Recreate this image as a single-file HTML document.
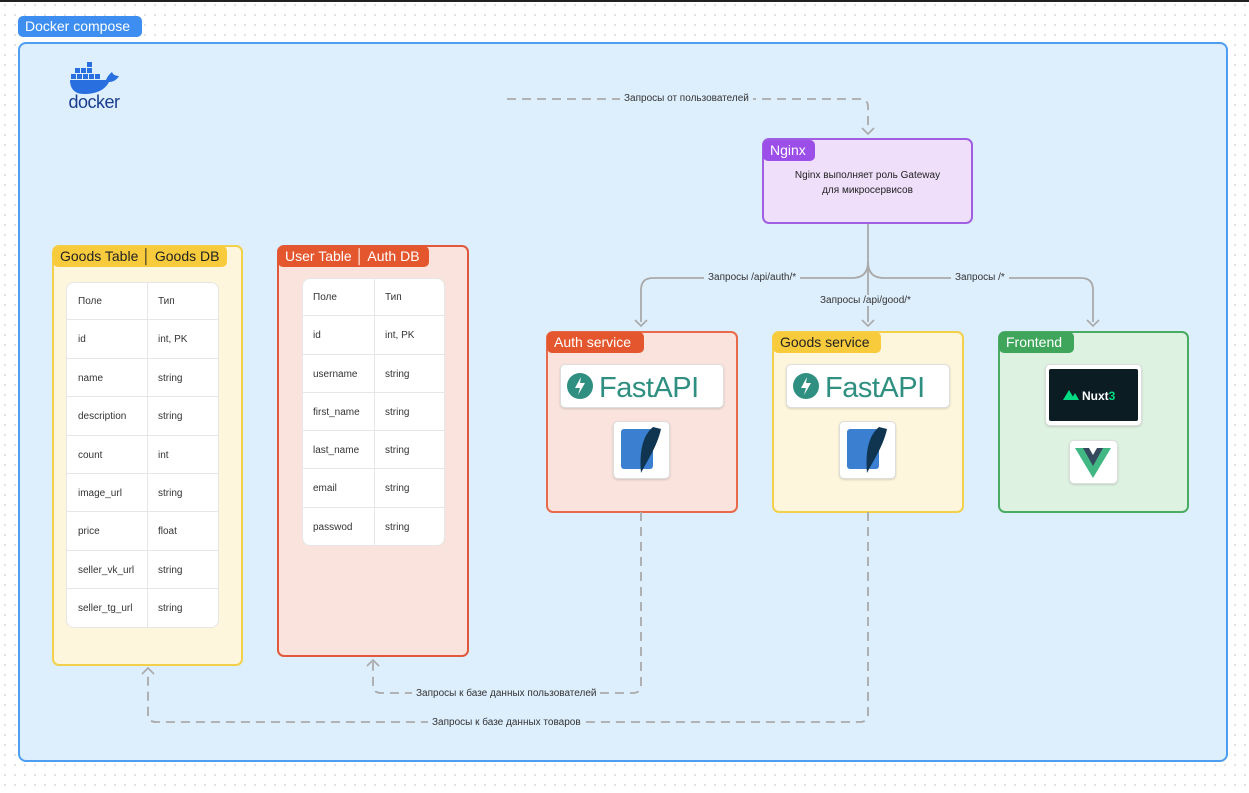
<!DOCTYPE html>
<html><head><meta charset="utf-8"><style>
*{box-sizing:border-box;margin:0;padding:0}
body{width:1249px;height:793px;position:relative;overflow:hidden;background:#fff;
background-image:radial-gradient(#d8d8d8 0.8px,transparent 1px);background-size:10px 10px;
font-family:"Liberation Sans","DejaVu Sans",sans-serif;color:#222}
.a{position:absolute}
.tag{position:absolute;font-size:14px;padding:0 7px;height:21px;line-height:21px;border-radius:5px;white-space:nowrap}
.box{position:absolute;border-radius:7px;border:2px solid}
.tbl{position:absolute;background:#fff;border-radius:8px;border:1px solid #e6e6e6;overflow:hidden}
.card{position:absolute;background:#fff;border-radius:5px;border:1px solid #ddd;box-shadow:0 1px 2px rgba(0,0,0,.15)}
.lbl{position:absolute;font-size:10px;color:#333;white-space:nowrap;background:#ddeefc;padding:0 4px}
</style></head><body>
<div class="a" style="left:0;top:0;width:1249px;height:2px;background:#222"></div>
<div class="tag" style="left:18px;top:16px;width:124px;background:#3d8ef0;color:#fff;font-size:14px">Docker compose</div>
<div class="box" style="left:18px;top:42px;width:1210px;height:720px;background:#ddeefc;border-color:#4d9ef0;border-radius:8px"></div>

<!-- docker logo -->
<svg class="a" style="left:66px;top:60px" width="56" height="52" viewBox="0 0 56 52">
<g fill="#2a6fe0"><rect x="9" y="8" width="5" height="5"/><rect x="15" y="8" width="5" height="5"/><rect x="21" y="8" width="5" height="5"/><rect x="21" y="2" width="5" height="5"/>
<rect x="5" y="14" width="5" height="5"/><rect x="11" y="14" width="5" height="5"/><rect x="17" y="14" width="5" height="5"/><rect x="23" y="14" width="5" height="5"/><rect x="29" y="14" width="5" height="5"/>
<path d="M4 20 H40 C42 15 45 13 46 12 C47 15 50 16 53 16 C50 21 46 22 43 22 C39 30 30 34 18 34 C8 34 4 28 4 20Z"/></g>
<text x="28" y="48" text-anchor="middle" font-size="18" fill="#1a3d8f" font-family="Liberation Sans,sans-serif" letter-spacing="-0.5">docker</text></svg>

<!-- Goods table -->
<div class="box" style="left:52px;top:245px;width:191px;height:421px;background:#fdf6dc;border-color:#f3d04a"></div>
<div class="tag" style="left:53px;top:246px;width:174px;background:#f7cb3c;color:#222">Goods Table │ Goods DB</div>
<div class="tbl" style="left:66px;top:282px;width:153px;height:346px">
<div style="position:absolute;left:80px;top:0;width:1px;height:346px;background:#e6e6e6"></div>
</div>

<!-- User table -->
<div class="box" style="left:277px;top:245px;width:192px;height:412px;background:#f9e3dc;border-color:#e0593c"></div>
<div class="tag" style="left:278px;top:246px;width:151px;background:#e4572e;color:#fff">User Table │ Auth DB</div>
<div class="tbl" style="left:302px;top:278px;width:143px;height:268px">
<div style="position:absolute;left:71px;top:0;width:1px;height:268px;background:#e6e6e6"></div>
</div>

<!-- Nginx -->
<div class="box" style="left:762px;top:138px;width:211px;height:86px;background:#efdffa;border-color:#a05fe3"></div>
<div class="tag" style="left:763px;top:140px;width:52px;background:#9b4fe8;color:#fff">Nginx</div>
<div class="a" style="left:762px;top:168px;width:211px;text-align:center;font-size:10px;line-height:15px;color:#222">Nginx выполняет роль Gateway<br>для микросервисов</div>

<!-- services -->
<div class="box" style="left:546px;top:331px;width:192px;height:182px;background:#f9e3dc;border-color:#e86a4a"></div>
<div class="tag" style="left:547px;top:332px;width:97px;background:#e4572e;color:#fff">Auth service</div>
<div class="box" style="left:772px;top:331px;width:192px;height:182px;background:#fdf6dc;border-color:#f3d04a"></div>
<div class="tag" style="left:773px;top:332px;width:108px;background:#f7cb3c;color:#222">Goods service</div>
<div class="box" style="left:998px;top:331px;width:191px;height:182px;background:#def2e2;border-color:#4aab62"></div>
<div class="tag" style="left:999px;top:332px;width:75px;background:#3fa55b;color:#fff">Frontend</div>

<!-- FastAPI cards -->
<div class="card" style="left:560px;top:364px;width:164px;height:44px"></div>
<div class="card" style="left:786px;top:364px;width:164px;height:44px"></div>
<svg class="a" style="left:560px;top:364px" width="164" height="44"><circle cx="20" cy="22" r="13" fill="#2f8f80"/><path d="M21 13 L15 24 H20 L18 31 L25 19 H20Z" fill="#fff"/><text x="39" y="33" font-size="29" fill="#2f8f80" font-family="Liberation Sans,sans-serif" letter-spacing="-0.5">FastAPI</text></svg>
<svg class="a" style="left:786px;top:364px" width="164" height="44"><circle cx="20" cy="22" r="13" fill="#2f8f80"/><path d="M21 13 L15 24 H20 L18 31 L25 19 H20Z" fill="#fff"/><text x="39" y="33" font-size="29" fill="#2f8f80" font-family="Liberation Sans,sans-serif" letter-spacing="-0.5">FastAPI</text></svg>
<!-- sqlite -->
<div class="card" style="left:613px;top:421px;width:57px;height:58px"></div>
<div class="card" style="left:839px;top:421px;width:57px;height:58px"></div>
<svg class="a" style="left:613px;top:421px" width="57" height="58"><rect x="8" y="8" width="32" height="40" rx="3" fill="#3a7fd0"/><path d="M40 6 C30 14 26 30 28 52 C34 40 44 26 48 8Z" fill="#0f3550"/></svg>
<svg class="a" style="left:839px;top:421px" width="57" height="58"><rect x="8" y="8" width="32" height="40" rx="3" fill="#3a7fd0"/><path d="M40 6 C30 14 26 30 28 52 C34 40 44 26 48 8Z" fill="#0f3550"/></svg>
<!-- nuxt / vue -->
<div class="card" style="left:1045px;top:364px;width:97px;height:62px"></div>
<div class="a" style="left:1049px;top:369px;width:89px;height:52px;background:#0b1c22;border-radius:2px"></div>
<svg class="a" style="left:1049px;top:369px" width="89" height="52"><path d="M14 31 L20 21 L26 31Z M22 31 L26 24 L30 31Z" fill="#00dc82"/><text x="33" y="31" font-size="12" fill="#fff" font-weight="bold" font-family="Liberation Sans,sans-serif">Nuxt<tspan fill="#00dc82">3</tspan></text></svg>
<div class="card" style="left:1069px;top:440px;width:49px;height:44px"></div>
<svg class="a" style="left:1069px;top:440px" width="49" height="44"><path d="M6 8 H16 L24 22 L32 8 H42 L24 38Z" fill="#41b883"/><path d="M14 8 H20 L24 15 L28 8 H34 L24 26Z" fill="#34495e"/></svg>

<!-- connectors -->
<svg class="a" style="left:0;top:0" width="1249" height="793" fill="none" stroke="#a9a9a9" stroke-width="1.8">
<g stroke-dasharray="9 6">
<path d="M507 99 H860 Q868 99 868 107 V130"/>
<path d="M641 512 V685 Q641 693 633 693 H381 Q373 693 373 685 V662"/>
<path d="M868 512 V714 Q868 722 860 722 H156 Q148 722 148 714 V672"/>
</g>
<path d="M868 224 V322"/>
<path d="M868 262 Q868 278 852 278 H653 Q641 278 641 290 V322"/>
<path d="M868 262 Q868 278 884 278 H1081 Q1093 278 1093 290 V322"/>
<g stroke-width="1.6">
<path d="M862 128 L868 134 L874 128"/>
<path d="M635 320 L641 326 L647 320"/>
<path d="M862 320 L868 326 L874 320"/>
<path d="M1087 320 L1093 326 L1099 320"/>
<path d="M367 666 L373 660 L379 666"/>
<path d="M142 674 L148 668 L154 674"/>
</g>
</svg>
<div class="lbl" style="left:620px;top:93px">Запросы от пользователей</div>
<div class="lbl" style="left:704px;top:272px">Запросы /api/auth/*</div>
<div class="lbl" style="left:951px;top:272px">Запросы /*</div>
<div class="lbl" style="left:816px;top:295px">Запросы /api/good/*</div>
<div class="lbl" style="left:412px;top:688px">Запросы к базе данных пользователей</div>
<div class="lbl" style="left:428px;top:717px">Запросы к базе данных товаров</div>

<!-- table rows -->
<div class="a" style="left:66px;top:282px;width:153px;font-size:10px;color:#333">
<div style="position:relative;height:38.4px;border-bottom:1px solid #e6e6e6"><span class="a" style="left:12px;top:14px">Поле</span><span class="a" style="left:92px;top:14px">Тип</span></div>
<div style="position:relative;height:38.4px;border-bottom:1px solid #e6e6e6"><span class="a" style="left:12px;top:14px">id</span><span class="a" style="left:92px;top:14px">int, PK</span></div>
<div style="position:relative;height:38.4px;border-bottom:1px solid #e6e6e6"><span class="a" style="left:12px;top:14px">name</span><span class="a" style="left:92px;top:14px">string</span></div>
<div style="position:relative;height:38.4px;border-bottom:1px solid #e6e6e6"><span class="a" style="left:12px;top:14px">description</span><span class="a" style="left:92px;top:14px">string</span></div>
<div style="position:relative;height:38.4px;border-bottom:1px solid #e6e6e6"><span class="a" style="left:12px;top:14px">count</span><span class="a" style="left:92px;top:14px">int</span></div>
<div style="position:relative;height:38.4px;border-bottom:1px solid #e6e6e6"><span class="a" style="left:12px;top:14px">image_url</span><span class="a" style="left:92px;top:14px">string</span></div>
<div style="position:relative;height:38.4px;border-bottom:1px solid #e6e6e6"><span class="a" style="left:12px;top:14px">price</span><span class="a" style="left:92px;top:14px">float</span></div>
<div style="position:relative;height:38.4px;border-bottom:1px solid #e6e6e6"><span class="a" style="left:12px;top:14px">seller_vk_url</span><span class="a" style="left:92px;top:14px">string</span></div>
<div style="position:relative;height:38.4px"><span class="a" style="left:12px;top:14px">seller_tg_url</span><span class="a" style="left:92px;top:14px">string</span></div>
</div>
<div class="a" style="left:302px;top:278px;width:143px;font-size:10px;color:#333">
<div style="position:relative;height:38.3px;border-bottom:1px solid #e6e6e6"><span class="a" style="left:11px;top:14px">Поле</span><span class="a" style="left:83px;top:14px">Тип</span></div>
<div style="position:relative;height:38.3px;border-bottom:1px solid #e6e6e6"><span class="a" style="left:11px;top:14px">id</span><span class="a" style="left:83px;top:14px">int, PK</span></div>
<div style="position:relative;height:38.3px;border-bottom:1px solid #e6e6e6"><span class="a" style="left:11px;top:14px">username</span><span class="a" style="left:83px;top:14px">string</span></div>
<div style="position:relative;height:38.3px;border-bottom:1px solid #e6e6e6"><span class="a" style="left:11px;top:14px">first_name</span><span class="a" style="left:83px;top:14px">string</span></div>
<div style="position:relative;height:38.3px;border-bottom:1px solid #e6e6e6"><span class="a" style="left:11px;top:14px">last_name</span><span class="a" style="left:83px;top:14px">string</span></div>
<div style="position:relative;height:38.3px;border-bottom:1px solid #e6e6e6"><span class="a" style="left:11px;top:14px">email</span><span class="a" style="left:83px;top:14px">string</span></div>
<div style="position:relative;height:38.3px"><span class="a" style="left:11px;top:14px">passwod</span><span class="a" style="left:83px;top:14px">string</span></div>
</div>
</body></html>
